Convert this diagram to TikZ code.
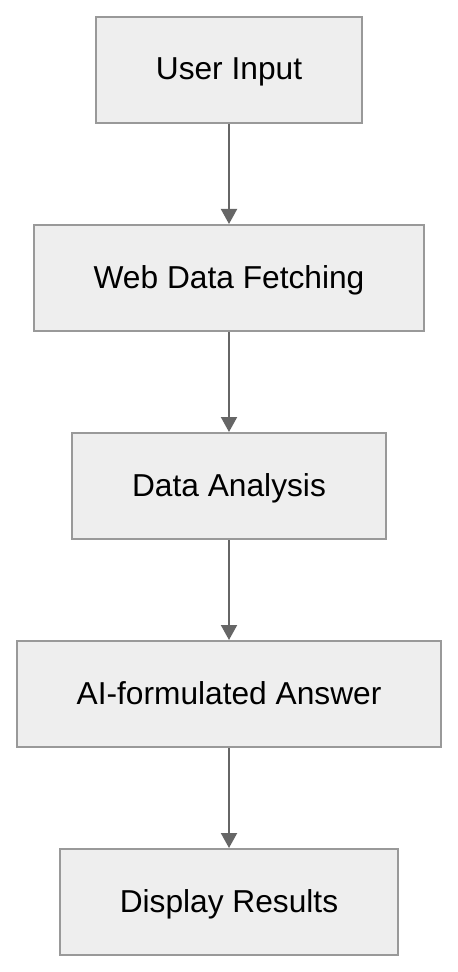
\documentclass[tikz,border=0pt]{standalone}
\usepackage{fontspec}
\setmainfont{Liberation Sans}
\usepackage{tikz}
\usetikzlibrary{positioning,arrows.meta}
\definecolor{stepfill}{RGB}{238,238,238}
\definecolor{stepdraw}{RGB}{153,153,153}
\definecolor{flowgray}{RGB}{102,102,102}
\tikzset{
  stepbox/.style = {draw=stepdraw, fill=stepfill, line width=1pt, align=center,
                    font=\fontsize{15.85}{19}\selectfont, inner xsep=30pt,
                    minimum height=53pt, text depth=1pt},
  flow/.style    = {-{Triangle[length=7.5pt, width=8pt]}, line width=1pt, draw=flowgray, fill=flowgray},
}

\begin{document}
\begin{tikzpicture}[node distance=50pt]
  \useasboundingbox (0,0) rectangle (229pt,-486pt);
  \node[stepbox] (input) at (114.5pt,-35pt) {User Input};
  \node[stepbox, below=of input] (fetch) {Web Data Fetching};
  \node[stepbox, below=of fetch] (analysis) {Data Analysis};
  \node[stepbox, below=of analysis] (answer) {AI-formulated Answer};
  \node[stepbox, below=of answer] (display) {Display Results};
  \draw[flow] (input) -- (fetch);
  \draw[flow] (fetch) -- (analysis);
  \draw[flow] (analysis) -- (answer);
  \draw[flow] (answer) -- (display);
\end{tikzpicture}
\end{document}
